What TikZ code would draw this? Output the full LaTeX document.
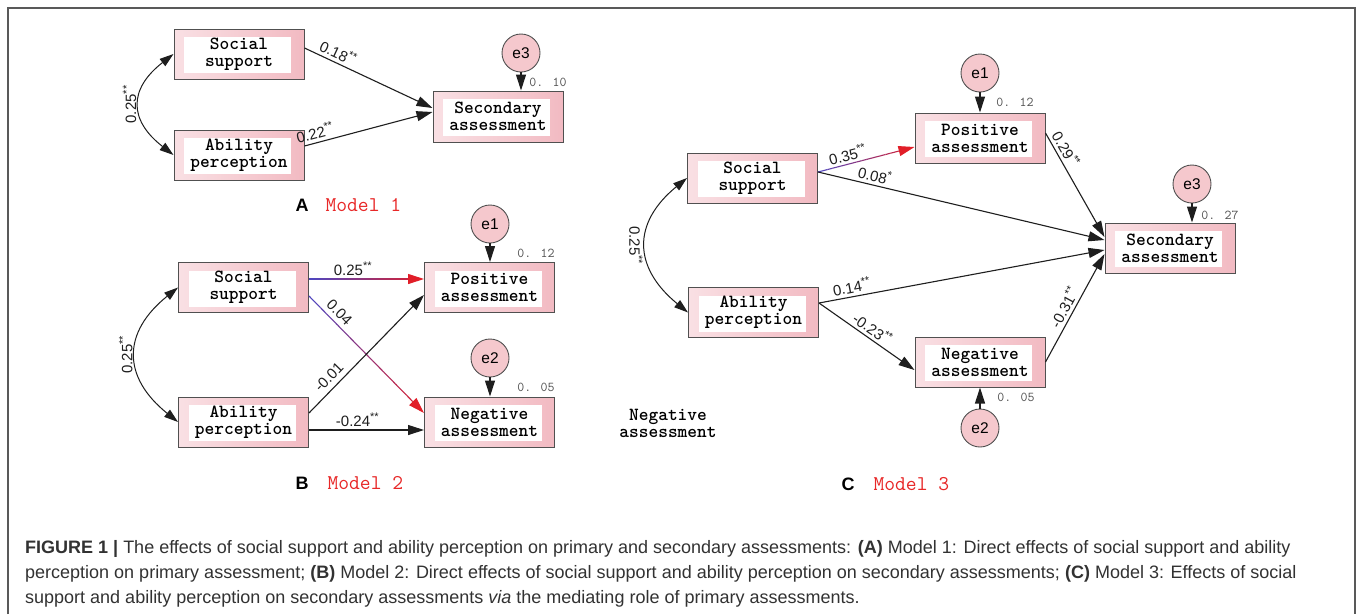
\documentclass[tikz,border=0pt]{standalone}
\usepackage{fontspec}
\setmainfont{Liberation Sans}
\usetikzlibrary{arrows.meta,calc}
\definecolor{pinkL}{RGB}{249,224,228}
\definecolor{pinkR}{RGB}{242,186,194}
\definecolor{circfill}{RGB}{245,200,205}
\definecolor{bordergray}{RGB}{80,80,80}
\definecolor{valgray}{RGB}{80,80,80}
\definecolor{modelred}{RGB}{232,40,40}
\definecolor{capgray}{RGB}{50,50,50}
\definecolor{gradblue}{RGB}{80,70,190}
\definecolor{arrred}{RGB}{225,30,40}
\definecolor{linecol}{RGB}{30,30,30}
\newcommand{\stars}[1]{\raisebox{0.38em}{\fontsize{11}{11}\selectfont #1}}
\newcommand{\gradarrow}[2]{%
  \foreach \i in {0,...,18}{%
    \pgfmathtruncatemacro{\p}{\i*5}%
    \draw[line width=1.1pt, arrred!\p!gradblue] ($(#1)!{\i/20}!(#2)$) -- ($(#1)!{(\i+1)/20}!(#2)$);
  }%
  \draw[arr, draw=arrred, fill=arrred] ($(#1)!0.95!(#2)$) -- (#2);%
}
\begin{document}
\begin{tikzpicture}[x=1pt,y=-1pt,
  boxnode/.style={draw=bordergray, line width=1pt, left color=pinkL, right color=pinkR,
    minimum width=130pt, minimum height=50pt, inner sep=0pt, align=center,
    font=\fontsize{18.5}{17}\ttfamily\bfseries,
    path picture={\fill[white] ($(path picture bounding box.south west)+(10pt,6pt)$) rectangle ($(path picture bounding box.north east)+(-13pt,-8pt)$);}},
  errnode/.style={circle, draw=bordergray, line width=0.9pt, fill=circfill, minimum size=38pt, inner sep=0pt, font=\fontsize{15.5}{15.5}\selectfont},
  arr/.style={line width=1.1pt, draw=linecol, -{Triangle[length=16pt,width=10pt]}},
  dblarr/.style={line width=1pt, draw=linecol, {Triangle[length=14pt,width=9pt]}-{Triangle[length=14pt,width=9pt]}},
  coef/.style={font=\fontsize{15}{15}\selectfont, inner sep=3pt, text=linecol},
  val/.style={font=\fontsize{13.5}{13.5}\ttfamily, text=valgray},
  modellab/.style={font=\fontsize{21}{21}\ttfamily, text=modelred, anchor=west},
  panellab/.style={font=\fontsize{18}{18}\selectfont\bfseries}
]
\useasboundingbox (0,0) rectangle (1358,614);
\fill[white] (0,0) rectangle (1358,614);
\draw[line width=1.5pt, draw=gray!70!black] (8,614) -- (8,8) -- (1355,8) -- (1355,614);

% ---------- Panel A ----------
\node[boxnode] (ass) at (239,54) {Social\\support};
\node[boxnode] (aap) at (239,155) {Ability\\perception};
\node[boxnode, minimum height=51pt] (asec) at (498,116.5) {Secondary\\assessment};
\node[errnode] (ae3) at (521,53) {e3};
\draw[arr] (ae3) -- (ae3 |- asec.north);
\node[val] (av) at (548,82) {0. 10};
\draw[arr] ($(ass.east)+(0,-6)$) -- node[coef, sloped, above, pos=0.23]{0.18\stars{**}} ($(asec.west)+(0,-8.5)$);
\draw[arr] ($(aap.east)+(0,-9)$) -- node[coef, sloped, above, pos=0.1]{0.22\stars{**}} ($(asec.west)+(0,-4.5)$);
\draw[dblarr] (ass.west) .. controls +(-45,35) and +(-45,-35) .. (aap.west) node[coef, pos=0.5, rotate=90, anchor=south] {0.25\stars{**}};
\node[panellab] (la) at (302,205) {A};
\node[modellab] (ma) at (322,205) {Model 1};

% ---------- Panel B ----------
\node[boxnode] (bss) at (243.5,287.5) {Social\\support};
\node[boxnode] (bap) at (243.5,422) {Ability\\perception};
\node[boxnode] (bpos) at (489.5,287.5) {Positive\\assessment};
\node[boxnode] (bneg) at (489.5,422) {Negative\\assessment};
\node[errnode] (be1) at (490,224) {e1};
\node[errnode] (be2) at (490,358) {e2};
\draw[arr] (be1) -- (be1 |- bpos.north);
\draw[arr] (be2) -- (be2 |- bneg.north);
\node[val] (bv1) at (536,253) {0. 12};
\node[val] (bv2) at (536,387) {0. 05};
\coordinate (b1s) at ($(bss.east)+(0,-8.5)$);
\coordinate (b1e) at ($(bpos.west)+(0,-8.5)$);
\coordinate (b2s) at ($(bss.east)+(0,8.5)$);
\coordinate (b2e) at ($(bneg.west)+(0,-9)$);
\gradarrow{b1s}{b1e}
\gradarrow{b2s}{b2e}
\path (b1s) -- node[coef, above, pos=0.38]{0.25\stars{**}} (b1e);
\path (b2s) -- node[coef, sloped, above, pos=0.2, inner sep=5pt]{0.04} (b2e);
\draw[arr] ($(bap.east)+(0,-9)$) -- node[coef, sloped, above, pos=0.24, inner sep=5pt]{-0.01} ($(bpos.west)+(0,7.5)$);
\draw[arr] ($(bap.east)+(0,8)$) -- node[coef, above, pos=0.42]{-0.24\stars{**}} ($(bneg.west)+(0,8)$);
\draw[dblarr] (bss.west) .. controls +(-56,45) and +(-56,-45) .. (bap.west) node[coef, pos=0.5, rotate=90, anchor=south] {0.25\stars{**}};
\node[panellab] (lb) at (302,483) {B};
\node[modellab] (mb) at (324,483) {Model 2};

% ---------- Panel C ----------
\node[boxnode] (css) at (752.5,178) {Social\\support};
\node[boxnode] (cap) at (753.5,312.5) {Ability\\perception};
\node[boxnode] (cpos) at (980,138) {Positive\\assessment};
\node[boxnode] (cneg) at (980,362) {Negative\\assessment};
\node[boxnode] (csec) at (1170,248) {Secondary\\assessment};
\node[errnode] (ce1) at (980,73) {e1};
\node[errnode] (ce3) at (1192,184) {e3};
\node[errnode] (ce2) at (980,428) {e2};
\draw[arr] (ce1) -- (ce1 |- cpos.north);
\draw[arr] (ce3) -- (ce3 |- csec.north);
\draw[arr] (ce2) -- (ce2 |- cneg.south);
\node[val] (cv1) at (1015,102) {0. 12};
\node[val] (cv3) at (1220,215) {0. 27};
\node[val] (cv2) at (1016,397) {0. 05};
\coordinate (c1s) at ($(css.east)+(0,-6)$);
\coordinate (c1e) at ($(cpos.west)+(0,9)$);
\gradarrow{c1s}{c1e}
\path (c1s) -- node[coef, sloped, above, pos=0.33]{0.35\stars{**}} (c1e);
\draw[arr] ($(css.east)+(0,-6)$) -- node[coef, sloped, above, pos=0.19]{0.08\stars{*}} ($(csec.west)+(0,-8)$);
\draw[arr] ($(cap.east)+(0,-9.5)$) -- node[coef, sloped, above, pos=0.12]{0.14\stars{**}} ($(csec.west)+(0,2)$);
\draw[arr] ($(cap.east)+(0,-9.5)$) -- node[coef, sloped, above, pos=0.5]{-0.23\stars{**}} ($(cneg.west)+(0,8)$);
\draw[arr] ($(cpos.east)+(0,-5)$) -- node[coef, sloped, above, pos=0.2]{0.29\stars{**}} ($(csec.west)+(0,-11)$);
\draw[arr] (cneg.east) -- node[coef, sloped, above, pos=0.46]{-0.31\stars{**}} ($(csec.west)+(0,6)$);
\draw[dblarr] (css.west) .. controls +(-55,45) and +(-55,-45) .. (cap.west) node[coef, pos=0.5, rotate=-90, anchor=north] {0.25\stars{**}};
\node[font=\fontsize{18.5}{17}\ttfamily\bfseries, align=center] (freetxt) at (668,423) {Negative\\assessment};
\node[panellab] (lc) at (848,484) {C};
\node[modellab] (mc) at (870,484) {Model 3};

% ---------- Caption ----------
\node[anchor=base west, inner sep=0pt, font=\fontsize{18}{22}\selectfont, text=capgray] (cap1) at (25,553) {\textbf{FIGURE 1} \textbf{|} The effects of social support and ability perception on primary and secondary assessments: \textbf{(A)} Model 1: Direct effects of social support and ability};
\node[anchor=base west, inner sep=0pt, font=\fontsize{18}{22}\selectfont, text=capgray] (cap2) at (25,578) {perception on primary assessment; \textbf{(B)} Model 2: Direct effects of social support and ability perception on secondary assessments; \textbf{(C)} Model 3: Effects of social};
\node[anchor=base west, inner sep=0pt, font=\fontsize{18}{22}\selectfont, text=capgray] (cap3) at (25,603) {support and ability perception on secondary assessments \textit{via} the mediating role of primary assessments.};
\end{tikzpicture}
\end{document}
